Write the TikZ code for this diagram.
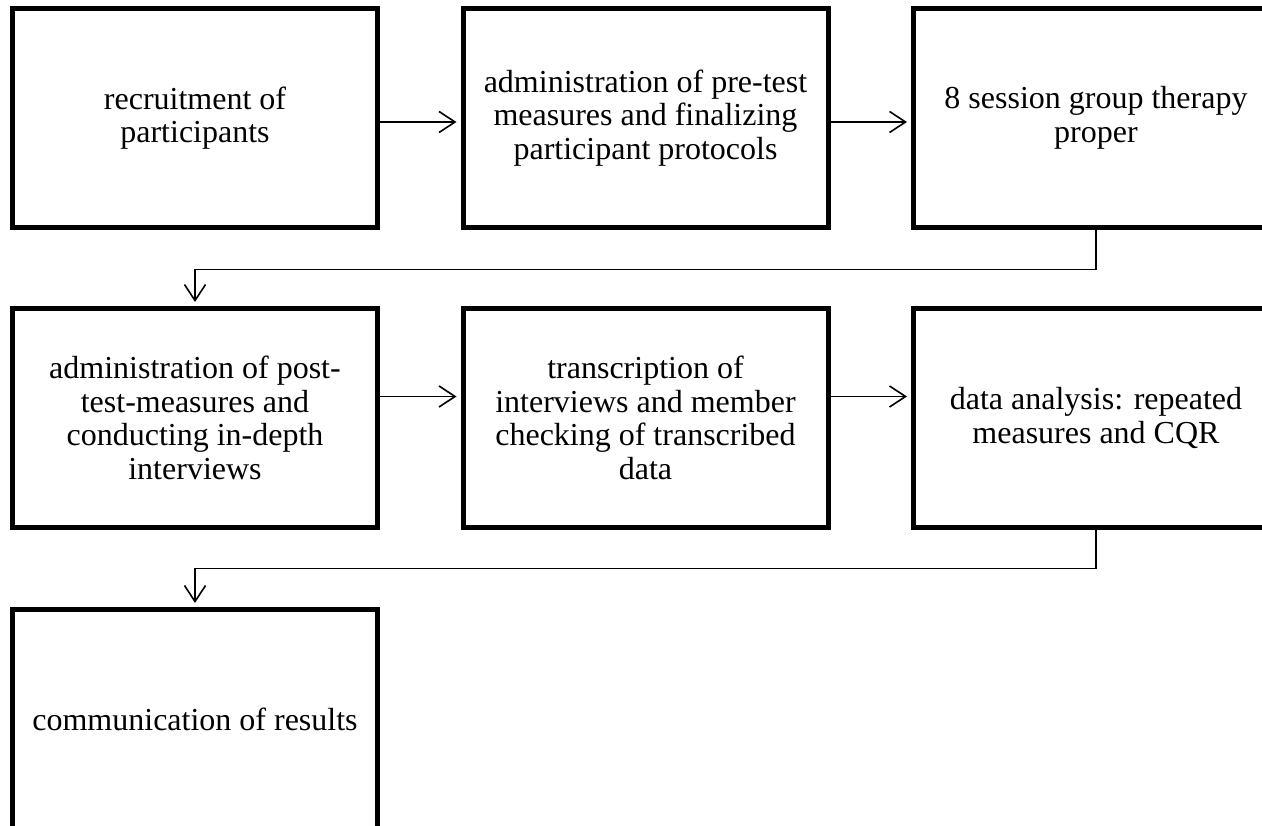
\documentclass[tikz,border=0pt]{standalone}
\usepackage{fontspec}
\setmainfont{Liberation Serif}
\usetikzlibrary{arrows.meta}
\tikzset{
  stepbox/.style={draw=black, line width=5pt, minimum width=365pt, minimum height=219pt,
    align=center, inner sep=0pt, font=\fontsize{32}{33.5}\selectfont},
  conn/.style={draw=black, line width=1.6pt, -{Straight Barb[length=16pt,width=21pt]}, shorten >=4pt}
}
\begin{document}
\begin{tikzpicture}[x=1pt,y=-1pt]
\clip (0,0) rectangle (1262,826);
\fill[white] (0,0) rectangle (1262,826);
\node[stepbox] (b1) at (195,118) {recruitment of\\participants};
\node[stepbox] (b2) at (645.5,118) {administration of pre-test\\measures and finalizing\\participant protocols};
\node[stepbox] (b3) at (1096,118) {8 session group therapy\\proper};
\node[stepbox] (b4) at (195,418) {administration of post-\\test-measures and\\conducting in-depth\\interviews};
\node[stepbox] (b5) at (645.5,418) {transcription of\\interviews and member\\checking of transcribed\\data};
\node[stepbox] (b6) at (1096,418) {data analysis: repeated\\measures and CQR};
\node[stepbox] (b7) at (195,719) {communication of results};
\coordinate (k1) at (195,269.5);
\coordinate (k2) at (195,568.5);
\draw[conn] ([yshift=-4pt]b1.east) -- ([yshift=-4pt]b2.west);
\draw[conn] ([yshift=-4pt]b2.east) -- ([yshift=-4pt]b3.west);
\draw[conn] (b3.south) |- (k1) -- (b4.north);
\draw[conn] ([yshift=21.5pt]b4.east) -- ([yshift=21.5pt]b5.west);
\draw[conn] ([yshift=21.5pt]b5.east) -- ([yshift=21.5pt]b6.west);
\draw[conn] (b6.south) |- (k2) -- (b7.north);
\end{tikzpicture}
\end{document}
